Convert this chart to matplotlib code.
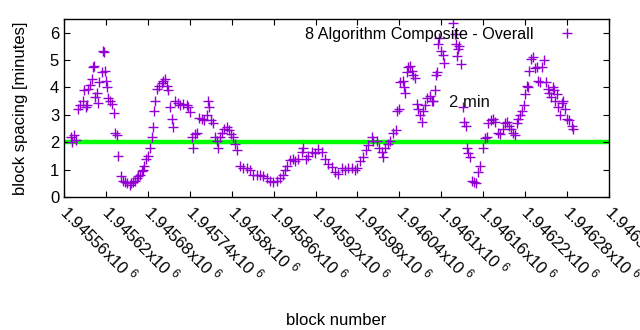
import numpy as np
import matplotlib.pyplot as plt

plt.rcParams["font.family"] = ["Liberation Sans", "DejaVu Sans"]
plt.rcParams["mathtext.default"] = "regular"

PURPLE = "#9400d3"
GREEN = "#00ff00"

blocks = [
    1945570, 1945571, 1945574, 1945577, 1945580, 1945583, 1945587, 1945589, 1945591, 1945593,
    1945594, 1945597, 1945600, 1945601, 1945603, 1945604, 1945607, 1945609, 1945610, 1945614,
    1945616, 1945617, 1945619, 1945620, 1945622, 1945623, 1945626, 1945629, 1945632, 1945633,
    1945636, 1945637, 1945642, 1945644, 1945647, 1945650, 1945654, 1945656, 1945659, 1945661,
    1945664, 1945666, 1945669, 1945671, 1945673, 1945674, 1945677, 1945680, 1945683, 1945686,
    1945687, 1945689, 1945690, 1945693, 1945696, 1945700, 1945702, 1945705, 1945707, 1945709,
    1945712, 1945715, 1945716, 1945719, 1945723, 1945726, 1945730, 1945736, 1945737, 1945740,
    1945743, 1945745, 1945747, 1945750, 1945753, 1945757, 1945760, 1945765, 1945766, 1945767,
    1945770, 1945773, 1945776, 1945779, 1945780, 1945783, 1945786, 1945789, 1945793, 1945796,
    1945799, 1945802, 1945805, 1945808, 1945812, 1945816, 1945822, 1945826, 1945830, 1945836,
    1945840, 1945845, 1945850, 1945855, 1945859, 1945865, 1945869, 1945873, 1945876, 1945879,
    1945883, 1945888, 1945891, 1945895, 1945901, 1945902, 1945906, 1945909, 1945915, 1945919,
    1945923, 1945929, 1945933, 1945938, 1945944, 1945948, 1945952, 1945958, 1945962, 1945966,
    1945972, 1945976, 1945979, 1945984, 1945988, 1945992, 1945995, 1946001, 1946002, 1946008,
    1946011, 1946015, 1946016, 1946019, 1946024, 1946026, 1946031, 1946035, 1946037, 1946039,
    1946041, 1946045, 1946047, 1946048, 1946051, 1946052, 1946055, 1946058, 1946059, 1946062,
    1946065, 1946067, 1946069, 1946072, 1946074, 1946077, 1946079, 1946084, 1946087, 1946088,
    1946091, 1946092, 1946094, 1946095, 1946097, 1946099, 1946102, 1946104, 1946117, 1946120,
    1946121, 1946122, 1946124, 1946125, 1946128, 1946131, 1946132, 1946135, 1946137, 1946138,
    1946141, 1946144, 1946147, 1946150, 1946152, 1946155, 1946160, 1946162, 1946165, 1946167,
    1946171, 1946174, 1946177, 1946181, 1946184, 1946188, 1946191, 1946194, 1946197, 1946200,
    1946203, 1946205, 1946208, 1946210, 1946213, 1946215, 1946218, 1946220, 1946223, 1946224,
    1946225, 1946228, 1946231, 1946234, 1946237, 1946238, 1946241, 1946244, 1946247, 1946250,
    1946253, 1946254, 1946257, 1946260, 1946261, 1946263, 1946265, 1946267, 1946270, 1946273,
    1946274, 1946277, 1946280, 1946283, 1946287, 1946288,
]
spacing = [
    2.2, 2.0, 2.25, 2.1, 3.2, 3.35, 3.5, 3.9, 3.3, 3.35,
    3.95, 4.1, 4.3, 4.75, 4.8, 3.65, 3.8, 3.45, 4.2, 4.55,
    5.35, 5.3, 4.6, 4.25, 4.0, 3.6, 3.5, 3.4, 3.05, 2.35,
    2.25, 1.5, 0.75, 0.6, 0.55, 0.5, 0.45, 0.5, 0.55, 0.6,
    0.7, 0.75, 0.8, 0.95, 1.0, 1.15, 1.4, 1.5, 1.8, 2.2,
    2.55, 3.15, 3.5, 3.95, 4.05, 4.15, 4.25, 4.3, 4.05, 3.9,
    3.3, 2.85, 2.55, 3.5, 3.45, 3.35, 3.4, 3.35, 3.3, 3.1,
    2.2, 1.8, 2.3, 2.35, 2.9, 2.85, 2.8, 3.0, 3.5, 3.3,
    2.8, 2.7, 2.2, 2.05, 1.8, 2.2, 2.35, 2.5, 2.55, 2.45,
    2.3, 2.2, 1.95, 1.7, 1.15, 1.05, 1.05, 1.0, 0.8, 0.8,
    0.8, 0.75, 0.7, 0.6, 0.55, 0.6, 0.7, 0.8, 1.0, 1.15,
    1.35, 1.4, 1.3, 1.4, 1.65, 1.8, 1.4, 1.5, 1.65, 1.6,
    1.75, 1.65, 1.4, 1.2, 1.1, 0.9, 0.85, 1.05, 1.0, 1.05,
    1.05, 1.0, 1.05, 1.3, 1.45, 1.7, 1.9, 2.2, 2.05, 2.05,
    1.8, 1.65, 1.45, 1.8, 1.95, 2.05, 2.35, 2.45, 3.15, 3.2,
    4.2, 4.25, 4.0, 3.8, 4.55, 4.75, 4.8, 4.6, 4.45, 4.35,
    3.4, 3.2, 3.0, 2.75, 3.15, 3.35, 3.6, 3.7, 3.5, 3.5,
    3.9, 4.45, 4.55, 5.6, 5.8, 5.35, 5.2, 4.9, 6.35, 5.95,
    5.6, 5.15, 5.4, 5.5, 4.85, 3.3, 2.75, 2.6, 1.8, 1.6,
    1.45, 0.6, 0.55, 0.5, 0.9, 1.15, 1.8, 2.15, 2.2, 2.7,
    2.8, 2.85, 2.75, 2.35, 2.3, 2.5, 2.7, 2.75, 2.6, 2.5,
    2.35, 2.25, 2.7, 2.85, 3.0, 3.15, 3.35, 3.75, 4.05, 4.0,
    4.6, 5.05, 5.1, 4.7, 4.75, 4.25, 4.2, 4.75, 5.0, 4.2,
    3.95, 3.8, 3.65, 4.0, 3.9, 3.5, 3.75, 3.3, 3.0, 3.45,
    3.5, 3.2, 2.85, 2.8, 2.6, 2.5,
]

target = 2.0
x_ticks = np.arange(1945560, 1946341, 60)
tick_labels = [f"{v / 1e6:.5f}".rstrip("0") + "x10 $^6$" for v in x_ticks]

fig = plt.figure(figsize=(6.4, 3.3), dpi=100)
ax = fig.add_axes([0.1, 0.403, 0.8516, 0.5394])

ax.axhline(target, color=GREEN, linewidth=3.2, zorder=1)
ax.plot(blocks, spacing, linestyle="none", marker="+", markersize=7.5,
        markeredgewidth=1.0, color=PURPLE, label="8 Algorithm Composite - Overall", zorder=2)
ax.text(1946140, 3.45, "2 min", fontsize=12, ha="center", va="center", color="#111111")

ax.set_xlim(1945560, 1946340)
ax.set_ylim(0, 6.5)
ax.set_yticks(range(0, 7))
ax.set_xticks(x_ticks)
ax.set_xticklabels(tick_labels, rotation=-45, ha="left", va="center",
                   rotation_mode="anchor", fontsize=12)
ax.tick_params(direction="in", top=True, right=True, length=4, labelsize=12, width=0.8)
ax.tick_params(axis="x", pad=8)
for s in ax.spines.values():
    s.set_linewidth(1.0)

ax.set_xlabel("block number", fontsize=12, labelpad=20)
ax.set_ylabel("block spacing [minutes]", fontsize=12, labelpad=16)

ax.legend(loc="upper right", markerfirst=False, frameon=False, fontsize=11.6,
          handlelength=1.2, borderaxespad=0.2, borderpad=0.0, handletextpad=1.5,
          bbox_to_anchor=(0.947, 0.975))

fig.savefig("out.png", dpi=100)
